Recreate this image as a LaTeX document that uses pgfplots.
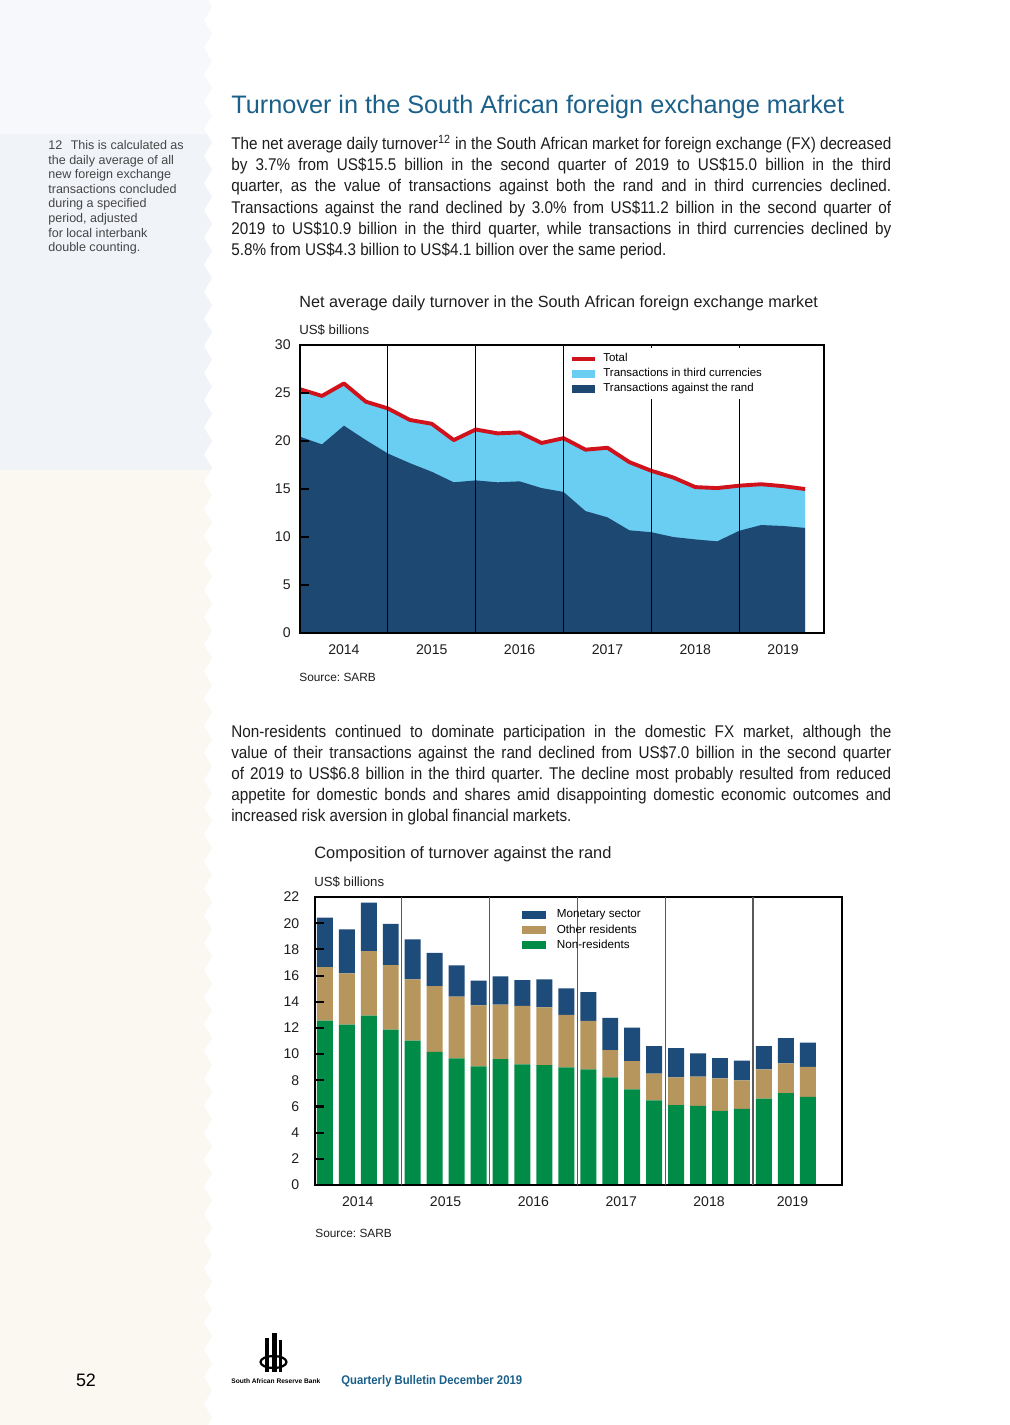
\documentclass[border=0pt]{standalone}
\usepackage{fontspec}
\setmainfont{Liberation Sans}
\newfontfamily\bodyfont{Liberation Sans}[FakeStretch=0.9]
\usepackage{pgfplots}
\usepackage{pgfplotstable}
\pgfplotsset{compat=1.18}
\usetikzlibrary{decorations.pathmorphing}
\frenchspacing

\definecolor{sbtop}{RGB}{247,248,251}
\definecolor{sbmid}{RGB}{240,243,248}
\definecolor{sbbot}{RGB}{250,248,241}
\definecolor{sarbteal}{RGB}{26,96,138}
\definecolor{txt}{RGB}{30,30,30}
\definecolor{note}{RGB}{70,70,70}
\definecolor{navy}{RGB}{28,72,114}
\definecolor{sky}{RGB}{106,205,242}
\definecolor{fxred}{RGB}{208,18,28}
\definecolor{nrgreen}{RGB}{0,140,70}
\definecolor{tanres}{RGB}{182,150,92}
\definecolor{monblue}{RGB}{30,76,122}

% quarterly turnover, 2013Q4 - 2019Q3
\pgfplotstableread{
q tot rand
0 25.4 20.45
1 24.7 19.65
2 26.0 21.6
3 24.1 20.1
4 23.4 18.7
5 22.2 17.7
6 21.8 16.8
7 20.1 15.7
8 21.2 15.9
9 20.8 15.7
10 20.9 15.8
11 19.8 15.1
12 20.3 14.7
13 19.1 12.7
14 19.3 12.05
15 17.8 10.7
16 16.9 10.5
17 16.2 10.0
18 15.2 9.75
19 15.1 9.55
20 15.35 10.65
21 15.5 11.25
22 15.3 11.15
23 15.0 10.95
}\turnover

% composition against the rand, 2014Q1 - 2019Q3
\pgfplotstableread{
q nr oth mon
0 12.56 4.09 3.78
1 12.26 3.91 3.37
2 12.94 4.93 3.70
3 11.88 4.92 3.15
4 11.04 4.67 3.05
5 10.18 5.02 2.54
6 9.67 4.72 2.39
7 9.06 4.67 1.88
8 9.62 4.16 2.16
9 9.21 4.47 1.98
10 9.16 4.42 2.13
11 8.98 4.01 2.04
12 8.84 3.70 2.20
13 8.23 2.07 2.47
14 7.30 2.16 2.56
15 6.46 2.05 2.10
16 6.10 2.13 2.23
17 6.05 2.23 1.77
18 5.66 2.49 1.54
19 5.82 2.18 1.51
20 6.61 2.23 1.77
21 7.02 2.28 1.93
22 6.74 2.28 1.85
}\composition

\newcommand{\jl}[2]{\node[anchor=base west, inner sep=0pt, text=txt,
  font=\bodyfont\fontsize{10}{12}\selectfont] at (231,-#1) {\makebox[389.2pt][s]{#2}};}
\newcommand{\el}[2]{\node[anchor=base west, inner sep=0pt, text=txt,
  font=\bodyfont\fontsize{10}{12}\selectfont] at (231,-#1) {#2};}
\newcommand{\nl}[2]{\node[anchor=base west, inner sep=0pt, text=note,
  font=\fontsize{7.4}{8.5}\selectfont] at (48,-#1) {#2};}

\pgfplotsset{
  fxaxis/.style={
    scale only axis, anchor=south west,
    axis on top,
    axis line style={line width=1.4pt},
    ytick pos=left, tick align=inside,
    major tick length=5.5pt,
    y tick style={line width=1.2pt, black},
    x tick style={draw=none},
    extra x tick labels={},
    ticklabel style={font=\fontsize{8.3}{10}\selectfont, text=txt},
    /pgf/number format/assume math mode=true,
    yticklabel style={xshift=-2pt},
    xticklabel style={yshift=-3.2pt},
    legend cell align=left,
  },
  boxlegend/.style={legend image code/.code={\fill[##1] (0pt,-2.4pt) rectangle (14pt,2.4pt); \path (#1,0pt);}},
  linelegend/.style={legend image code/.code={\draw[##1] (0pt,0pt) -- (14pt,0pt); \path (15.5pt,0pt);}},
}

\begin{document}
\begin{tikzpicture}[x=0.5897pt, y=0.5897pt]
\fill[white] (0,0) rectangle (1009,-1425);

% side strip
\begin{scope}
\clip (0,0) -- (208,0) decorate[decoration={zigzag, segment length=16pt, amplitude=2.4pt}] {-- (208,-1425)} -- (0,-1425) -- cycle;
\fill[sbtop] (0,0) rectangle (220,-134);
\fill[sbmid] (0,-134) rectangle (220,-470);
\fill[sbbot] (0,-470) rectangle (220,-1425);
\end{scope}

\nl{150}{12\hspace{5pt}This is calculated as}
\nl{164.5}{the daily average of all}
\nl{179}{new foreign exchange}
\nl{193.5}{transactions concluded}
\nl{208}{during a specified}
\nl{222.5}{period, adjusted}
\nl{237}{for local interbank}
\nl{251.5}{double counting.}

% heading and text
\node[anchor=base west, inner sep=0pt, text=sarbteal, font=\fontsize{14.9}{17}\selectfont]
  at (231,-114) {Turnover in the South African foreign exchange market};

\jl{150}{The net average daily turnover\textsuperscript{12} in the South African market for foreign exchange (FX) decreased}
\jl{171}{by 3.7\% from US\$15.5 billion in the second quarter of 2019 to US\$15.0 billion in the third}
\jl{192}{quarter, as the value of transactions against both the rand and in third currencies declined.}
\jl{213}{Transactions against the rand declined by 3.0\% from US\$11.2 billion in the second quarter of}
\jl{234}{2019 to US\$10.9 billion in the third quarter, while transactions in third currencies declined by}
\el{255}{5.8\% from US\$4.3 billion to US\$4.1 billion over the same period.}

\jl{737}{Non-residents continued to dominate participation in the domestic FX market, although the}
\jl{758}{value of their transactions against the rand declined from US\$7.0 billion in the second quarter}
\jl{779}{of 2019 to US\$6.8 billion in the third quarter. The decline most probably resulted from reduced}
\jl{800}{appetite for domestic bonds and shares amid disappointing domestic economic outcomes and}
\el{821}{increased risk aversion in global financial markets.}

% chart 1 labels
\node[anchor=base west, inner sep=0pt, text=txt, font=\fontsize{9.55}{11}\selectfont]
  at (299,-307) {Net average daily turnover in the South African foreign exchange market};
\node[anchor=base west, inner sep=0pt, text=txt, font=\fontsize{7.8}{9}\selectfont]
  at (299,-334) {US\$ billions};
\node[anchor=base west, inner sep=0pt, text=txt, font=\fontsize{7}{8}\selectfont]
  at (299,-681) {Source: SARB};

\coordinate (c1) at (300,-633);
\begin{axis}[fxaxis, set layers,
  at={(c1)}, width=309pt, height=169.8pt,
  xmin=0, xmax=23.86, ymin=0, ymax=30,
  ytick={0,5,...,30},
  xtick={2,6,10,14,18,22},
  xticklabels={2014,2015,2016,2017,2018,2019},
  extra x ticks={4,8,12,16,20},
  extra x tick style={grid=major, major grid style={black, line width=0.6pt}},
  legend style={at={(0.511,0.99)}, anchor=north west, draw=none, fill=white,
    font=\fontsize{6.75}{7.5}\selectfont, inner sep=1pt, row sep=-1.6pt},
]
\addplot[fill=sky, draw=none, forget plot] table[x=q, y=tot] {\turnover} \closedcycle;
\addplot[fill=navy, draw=none, forget plot] table[x=q, y=rand] {\turnover} \closedcycle;
\addplot[fxred, line width=2.3pt, line join=round, forget plot] table[x=q, y=tot] {\turnover};
\addlegendimage{fxred, line width=2.3pt, linelegend}
\addlegendentry{Total}
\addlegendimage{fill=sky, draw=none, boxlegend=15.5pt}
\addlegendentry{Transactions in third currencies}
\addlegendimage{fill=navy, draw=none, boxlegend=15.5pt}
\addlegendentry{Transactions against the rand}
\end{axis}

% chart 2 labels
\node[anchor=base west, inner sep=0pt, text=txt, font=\fontsize{9.7}{11}\selectfont]
  at (314,-858) {Composition of turnover against the rand};
\node[anchor=base west, inner sep=0pt, text=txt, font=\fontsize{7.8}{9}\selectfont]
  at (314,-886) {US\$ billions};
\node[anchor=base west, inner sep=0pt, text=txt, font=\fontsize{7}{8}\selectfont]
  at (315,-1237) {Source: SARB};

\coordinate (c2) at (315,-1185);
\begin{axis}[fxaxis,
  at={(c2)}, width=310.8pt, height=169.8pt,
  ybar stacked, bar width=9.4pt,
  xmin=-0.45, xmax=23.56, ymin=0, ymax=22,
  ytick={0,2,...,22},
  yticklabel style={xshift=-3.8pt},
  xtick={1.5,5.5,9.5,13.5,17.5,21.3},
  xticklabels={2014,2015,2016,2017,2018,2019},
  extra x ticks={3.5,7.5,11.5,15.5,19.5},
  extra x tick style={grid=major, major grid style={black!65, line width=0.7pt}},
  reverse legend,
  legend style={at={(0.389,0.975)}, anchor=north west, draw=none, fill=none,
    font=\fontsize{6.9}{7.5}\selectfont, inner sep=1pt, row sep=-1.5pt},
]
\addplot[fill=nrgreen, draw=none, boxlegend=18.5pt] table[x=q, y=nr] {\composition};
\addlegendentry{Non-residents}
\addplot[fill=tanres, draw=none, boxlegend=18.5pt] table[x=q, y=oth] {\composition};
\addlegendentry{Other residents}
\addplot[fill=monblue, draw=none, boxlegend=18.5pt] table[x=q, y=mon] {\composition};
\addlegendentry{Monetary sector}
\end{axis}

% footer
\node[anchor=base, inner sep=0pt, font=\fontsize{10.6}{12}\selectfont] at (86,-1386) {52};
\fill[black] (265,-1338) rectangle (269,-1372);
\fill[black] (272,-1333) rectangle (277,-1372);
\fill[black] (279,-1340) rectangle (282,-1372);
\draw[black, line width=1.3pt] (273.5,-1362) ellipse [x radius=13, y radius=6];
\node[anchor=base west, inner sep=0pt, font=\fontsize{3.9}{4}\selectfont\bfseries] at (231,-1383) {South African Reserve Bank};
\node[anchor=base west, inner sep=0pt, text=sarbteal, font=\bodyfont\fontsize{7.4}{9}\selectfont\bfseries]
  at (341,-1384) {Quarterly Bulletin December 2019};

\pgfresetboundingbox
\path (0,0) rectangle (1009,-1425);
\end{tikzpicture}
\end{document}
